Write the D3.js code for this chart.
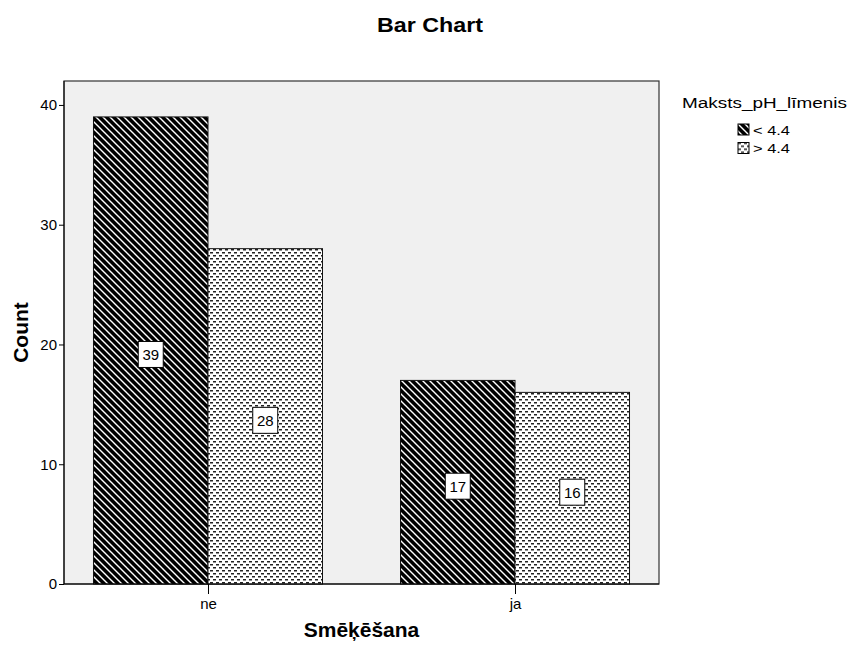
<!DOCTYPE html>
<html><head><meta charset="utf-8">
<script src="https://cdn.jsdelivr.net/npm/d3@7"></script>
<style>body{margin:0;background:#fff}svg{display:block}text{font-family:Arial,"Liberation Sans",sans-serif}</style>
</head><body>
<svg id="c" width="848" height="651"></svg>
<script>
const categories = ["ne", "ja"];
const groups = ["< 4.4", "> 4.4"];
const valuesLow = [39, 17];
const valuesHigh = [28, 16];
const yTicks = [0, 10, 20, 30, 40];
const title = "Bar Chart";
const xTitle = "Smēķēšana";
const yTitle = "Count";
const legendTitle = "Maksts_pH_līmenis";

const svg = d3.select("#c");
const L = 64, R = 659, T = 81, B = 584;

const defs = svg.append("defs");
const p1 = defs.append("pattern").attr("id","hatch").attr("patternUnits","userSpaceOnUse")
  .attr("width",7).attr("height",7);
p1.append("rect").attr("width",7).attr("height",7).attr("fill","#000");
p1.append("path").attr("d","M-1,-1 L8,8 M-8,-1 L1,8 M6,-1 L15,8")
  .attr("stroke","#fff").attr("stroke-width",1.4);
const p2 = defs.append("pattern").attr("id","dots").attr("patternUnits","userSpaceOnUse")
  .attr("width",6).attr("height",6);
p2.append("rect").attr("width",6).attr("height",6).attr("fill","#fff");
p2.append("rect").attr("x",0).attr("y",0).attr("width",3).attr("height",1.5).attr("fill","#222");
p2.append("rect").attr("x",3).attr("y",3).attr("width",3).attr("height",1.5).attr("fill","#222");
const fills = ["url(#hatch)","url(#dots)"];

const y = d3.scaleLinear().domain([0,42]).range([B,T]);
const x = d3.scalePoint().domain(categories).range([L,R]).padding(0.469);
const xs = d3.scaleBand().domain(groups).range([-114.5,114.5]);

// frame
svg.append("rect").attr("x",L).attr("y",T).attr("width",R-L).attr("height",B-T)
  .attr("fill","#f0f0f0").attr("stroke","#333").attr("stroke-width",1.2);

const data = [];
categories.forEach((c,i)=>{
  data.push({c, g:groups[0], v:valuesLow[i], k:0});
  data.push({c, g:groups[1], v:valuesHigh[i], k:1});
});

svg.selectAll("rect.bar").data(data).join("rect").attr("class","bar")
  .attr("x",d=>x(d.c)+xs(d.g)).attr("y",d=>y(d.v))
  .attr("width",xs.bandwidth()).attr("height",d=>B-y(d.v))
  .attr("fill",d=>fills[d.k]).attr("stroke","#111").attr("stroke-width",1);

// labels
const lab = svg.selectAll("g.lab").data(data).join("g").attr("class","lab")
  .attr("transform",d=>`translate(${x(d.c)+xs(d.g)+xs.bandwidth()/2},${(y(d.v)+B)/2+4})`);
lab.append("rect").attr("x",-12.5).attr("y",-13).attr("width",25).attr("height",26)
  .attr("fill","#fff").attr("stroke","#000").attr("stroke-width",1);
lab.append("text").attr("text-anchor","middle").attr("dy","0.36em").attr("font-size",15)
  .text(d=>d.v);

// axes
const ya = svg.append("g").attr("transform",`translate(${L},0)`)
  .call(d3.axisLeft(y).tickValues(yTicks).tickSize(5).tickPadding(2));
ya.select(".domain").attr("stroke","#000").attr("d",`M0,${T}V${B}`);
ya.selectAll("text").attr("font-size",15).attr("fill","#000").attr("font-family","Arial, Liberation Sans, sans-serif");
const xa = svg.append("g").attr("transform",`translate(0,${B})`)
  .call(d3.axisBottom(x).tickSize(10).tickPadding(4));
xa.select(".domain").attr("stroke","#000").attr("d",`M${L},0H${R}`);
xa.selectAll("text").attr("font-size",15).attr("fill","#000").attr("font-family","Arial, Liberation Sans, sans-serif");

// titles
svg.append("text").attr("x",430).attr("y",32).attr("text-anchor","middle")
  .attr("font-size",21).attr("font-weight","bold")
  .attr("textLength",106).attr("lengthAdjust","spacingAndGlyphs").text(title);
svg.append("text").attr("x",(L+R)/2).attr("y",637).attr("text-anchor","middle")
  .attr("font-size",21).attr("font-weight","bold").text(xTitle);
svg.append("text").attr("transform",`translate(28,${(T+B)/2}) rotate(-90)`).attr("text-anchor","middle")
  .attr("font-size",21).attr("font-weight","bold").text(yTitle);

// legend
svg.append("text").attr("x",682).attr("y",108).attr("font-size",15.5)
  .attr("textLength",165).attr("lengthAdjust","spacingAndGlyphs").text(legendTitle);
const lg = svg.selectAll("g.lg").data(groups).join("g").attr("class","lg")
  .attr("transform",(d,i)=>`translate(738,${124+i*18.5})`);
lg.append("rect").attr("width",11).attr("height",11).attr("fill",(d,i)=>fills[i])
  .attr("stroke","#000").attr("stroke-width",1);
lg.append("text").attr("x",15).attr("y",10.5).attr("font-size",13)
  .attr("textLength",37).attr("lengthAdjust","spacingAndGlyphs").text(d=>d);
</script>
</body></html>
